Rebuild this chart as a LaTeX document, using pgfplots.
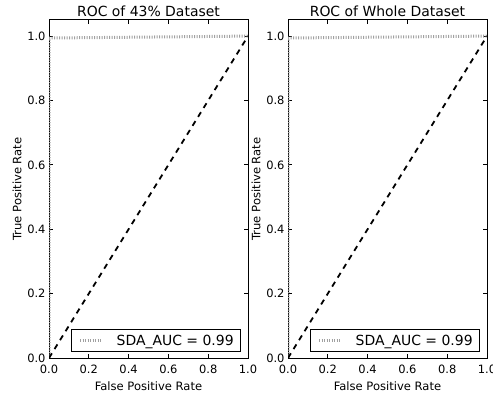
\documentclass[border=0pt]{standalone}
\usepackage{fontspec}
\setmainfont{DejaVu Sans}
\usepackage{pgfplots}
\pgfplotsset{compat=1.18}
\definecolor{rocgray}{RGB}{160,160,160}
\pgfplotsset{
  rocaxis/.style={
    anchor=south west,
    width=199bp, height=338bp, scale only axis,
    xmin=0, xmax=1, ymin=0, ymax=1.05,
    xtick={0,0.2,0.4,0.6,0.8,1.0},
    ytick={0,0.2,0.4,0.6,0.8,1.0},
    tick align=inside,
    major tick length=4bp,
    minor tick num=0,
    tick style={black, line width=0.8bp},
    axis line style={black, line width=1bp},
    /pgf/number format/assume math mode=true,
    /pgf/number format/fixed,
    /pgf/number format/fixed zerofill,
    /pgf/number format/precision=1,
    ticklabel style={font=\fontsize{11.5}{13}\selectfont},
    xticklabel style={yshift=-3bp},
    label style={font=\fontsize{11.6}{13}\selectfont},
    xlabel={False Positive Rate},
    ylabel={True Positive Rate},
    xlabel style={at={(axis description cs:0.5,0)}, anchor=center, yshift=-28bp},
    ylabel style={at={(axis description cs:0,0.5)}, anchor=center, rotate=0, yshift=32bp},
    title style={font=\fontsize{14}{16}\selectfont, at={(axis description cs:0.5,1)}, anchor=center, yshift=3bp},
    legend style={at={(0.965,0.018)}, anchor=south east, draw=black, line width=0.8bp,
      font=\fontsize{14}{16}\selectfont, inner xsep=7bp, inner ysep=2bp, column sep=14bp,
      nodes={inner xsep=0bp, inner ysep=3bp}},
    legend cell align=left,
  },
  rocline/.style={rocgray, line width=3bp, dash pattern=on 1bp off 1.5bp, line cap=butt,
    legend image code/.code={\draw[##1] (0bp,0bp) -- (21bp,0bp);}},
  diagline/.style={black, line width=1.8bp, dash pattern=on 5.5bp off 5bp, forget plot},
}
\begin{document}
\begin{tikzpicture}
\begin{axis}[rocaxis, at={(49bp,35bp)}, title={ROC of 43\% Dataset}]
\addplot[rocline] coordinates {(0,0) (0,0.994) (1,1)};
\addlegendentry{SDA\_AUC = 0.99\hspace{-1bp}}
\addplot[diagline] coordinates {(0,0) (1,1)};
\end{axis}
\begin{axis}[rocaxis, at={(288bp,35bp)}, title={ROC of Whole Dataset}]
\addplot[rocline] coordinates {(0,0) (0,0.994) (1,1)};
\addlegendentry{SDA\_AUC = 0.99\hspace{-1bp}}
\addplot[diagline] coordinates {(0,0) (1,1)};
\end{axis}
\pgfresetboundingbox
\path[use as bounding box] (0,0) rectangle (493bp,393bp);
\end{tikzpicture}
\end{document}
